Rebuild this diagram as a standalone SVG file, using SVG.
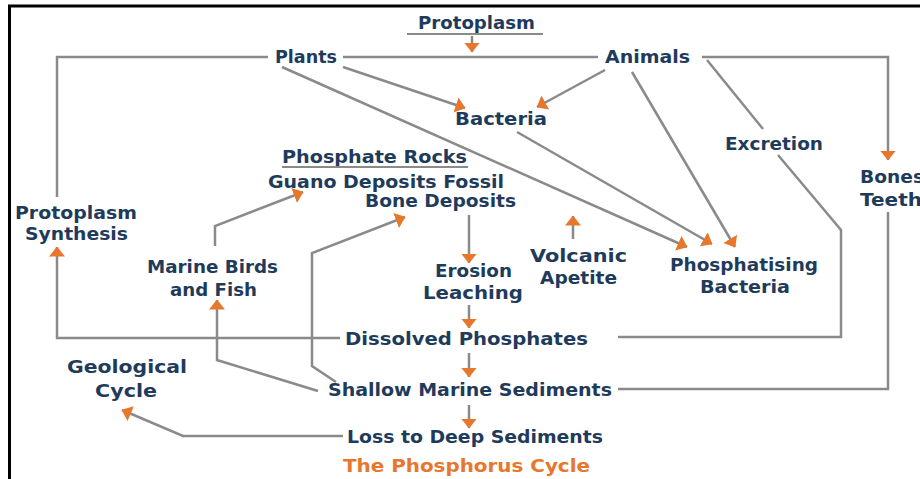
<svg xmlns="http://www.w3.org/2000/svg" width="920" height="479" viewBox="0 0 920 479">
<style>
.t{font-family:"DejaVu Sans","Liberation Sans",sans-serif;font-weight:bold;font-size:17px;fill:#1f3b5c;text-anchor:middle}
.o{fill:#e8772e}
.c{fill:none;stroke:#8a8a8a;stroke-width:2.5;stroke-linejoin:miter}
.a{marker-end:url(#ah)}
.u{stroke:#8a8a8a;stroke-width:2}
</style>
<defs>
<marker id="ah" markerUnits="userSpaceOnUse" viewBox="0 0 10 16" markerWidth="10" markerHeight="16" refX="9.5" refY="8" orient="auto">
<path d="M0,0 L10,8 L0,16 z" fill="#e8772e"/>
</marker>
</defs>
<rect width="920" height="479" fill="#fff"/>
<path d="M9.5,479 V6 H920" fill="none" stroke="#000" stroke-width="3"/>

<g id="connectors">
<path class="c" d="M57,197 V57 H268"/>
<path class="c" d="M343,57 H598"/>
<path class="c a" d="M702,57 H888 V160"/>
<path class="c a" d="M472,36 V52"/>
<path class="c" d="M888,212 V389 H618"/>
<path class="c" d="M707,60 L763,129"/>
<path class="c" d="M778,155 L841,230 V337 H618"/>
<path class="c a" d="M340,338 H57 V247"/>
<path class="c a" d="M343,436 H183 L122,410"/>
<path class="c a" d="M215,246 V226 L303,192"/>
<path class="c a" d="M336,382 L312,366 V253 L405,217"/>
<path class="c a" d="M318,391 L217,360 V300"/>
<path class="c a" d="M469,215 V263"/>
<path class="c a" d="M469,305 V328"/>
<path class="c a" d="M469,353 V377"/>
<path class="c a" d="M469,405 V428"/>
<path class="c a" d="M573,239 V216"/>
<path class="c a" d="M343,67 L465,108"/>
<path class="c a" d="M605,70 L537,107"/>
<path class="c a" d="M282,67 L687,247"/>
<path class="c a" d="M517,132 L712,244"/>
<path class="c a" d="M632,72 L735,247"/>
</g>

<g id="protoplasm"><text class="t" x="476.5" y="29" textLength="117" lengthAdjust="spacingAndGlyphs">Protoplasm</text><line class="u" x1="407" y1="34" x2="543" y2="34"/></g>
<g id="plants"><text class="t" x="306" y="63" textLength="62" lengthAdjust="spacingAndGlyphs">Plants</text></g>
<g id="animals"><text class="t" x="647.5" y="63" textLength="85" lengthAdjust="spacingAndGlyphs">Animals</text></g>
<g id="bacteria"><text class="t" x="501" y="125" textLength="92" lengthAdjust="spacingAndGlyphs">Bacteria</text></g>
<g id="excretion"><text class="t" x="774" y="150" textLength="98" lengthAdjust="spacingAndGlyphs">Excretion</text></g>
<g id="bones-teeth"><text class="t" x="860" y="183" style="text-anchor:start" textLength="64" lengthAdjust="spacingAndGlyphs">Bones</text><text class="t" x="860" y="206" style="text-anchor:start" textLength="62" lengthAdjust="spacingAndGlyphs">Teeth</text></g>
<g id="phosphate-rocks"><text class="t" x="374.5" y="163" textLength="185" lengthAdjust="spacingAndGlyphs">Phosphate Rocks</text><line class="u" x1="282" y1="167" x2="468" y2="167"/>
<text class="t" x="386" y="188" textLength="236" lengthAdjust="spacingAndGlyphs">Guano Deposits Fossil</text>
<text class="t" x="440.5" y="207" textLength="151" lengthAdjust="spacingAndGlyphs">Bone Deposits</text></g>
<g id="protoplasm-synthesis"><text class="t" x="76" y="219" textLength="122" lengthAdjust="spacingAndGlyphs">Protoplasm</text><text class="t" x="76.5" y="240" textLength="103" lengthAdjust="spacingAndGlyphs">Synthesis</text></g>
<g id="marine-birds"><text class="t" x="212.5" y="273" textLength="131" lengthAdjust="spacingAndGlyphs">Marine Birds</text><text class="t" x="213.5" y="296" textLength="87" lengthAdjust="spacingAndGlyphs">and Fish</text></g>
<g id="erosion"><text class="t" x="473.5" y="277" textLength="77" lengthAdjust="spacingAndGlyphs">Erosion</text><text class="t" x="473" y="299" textLength="100" lengthAdjust="spacingAndGlyphs">Leaching</text></g>
<g id="volcanic"><text class="t" x="578.5" y="262" textLength="97" lengthAdjust="spacingAndGlyphs">Volcanic</text><text class="t" x="578.5" y="284" textLength="77" lengthAdjust="spacingAndGlyphs">Apetite</text></g>
<g id="phosphatising-bacteria"><text class="t" x="744" y="271" textLength="148" lengthAdjust="spacingAndGlyphs">Phosphatising</text><text class="t" x="745" y="293" textLength="90" lengthAdjust="spacingAndGlyphs">Bacteria</text></g>
<g id="dissolved"><text class="t" x="466.5" y="345" textLength="243" lengthAdjust="spacingAndGlyphs">Dissolved Phosphates</text></g>
<g id="geological"><text class="t" x="127" y="373" textLength="120" lengthAdjust="spacingAndGlyphs">Geological</text><text class="t" x="126" y="397" textLength="62" lengthAdjust="spacingAndGlyphs">Cycle</text></g>
<g id="shallow"><text class="t" x="470" y="396" textLength="284" lengthAdjust="spacingAndGlyphs">Shallow Marine Sediments</text></g>
<g id="loss"><text class="t" x="475" y="443" textLength="256" lengthAdjust="spacingAndGlyphs">Loss to Deep Sediments</text></g>
<g id="title"><text class="t o" x="466.5" y="472" textLength="247" lengthAdjust="spacingAndGlyphs">The Phosphorus Cycle</text></g>
</svg>
